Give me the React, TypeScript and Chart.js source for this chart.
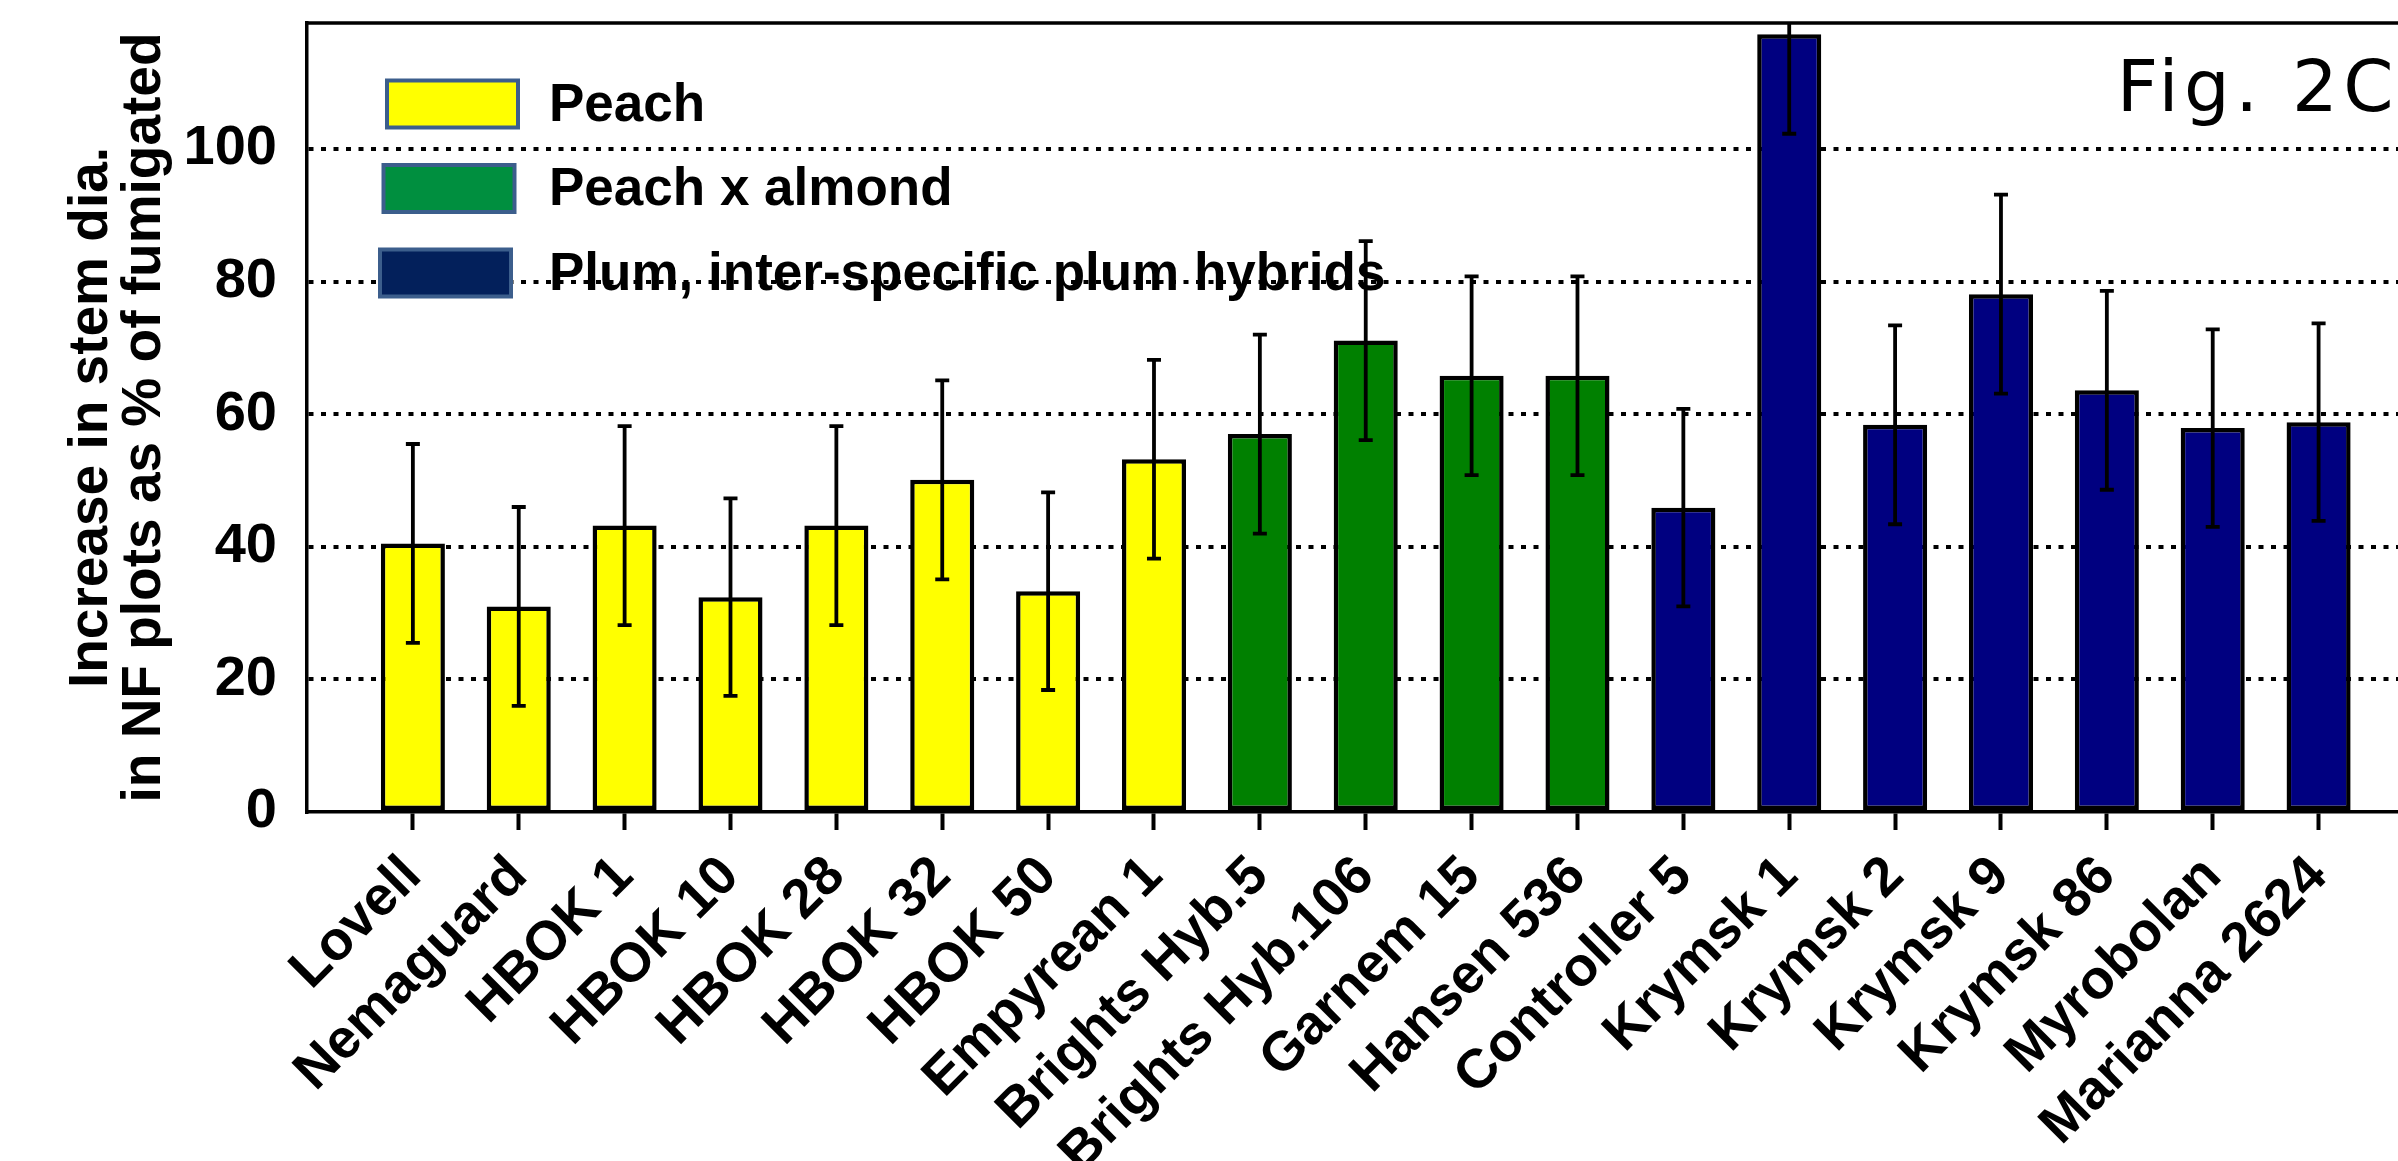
import React, { useEffect, useRef } from 'react';
import { Chart, registerables } from 'chart.js';

Chart.register(...registerables);

const categories = [
  'Lovell', 'Nemaguard', 'HBOK 1', 'HBOK 10', 'HBOK 28', 'HBOK 32', 'HBOK 50', 'Empyrean 1',
  'Brights Hyb.5', 'Brights Hyb.106', 'Garnem 15', 'Hansen 536', 'Controller 5',
  'Krymsk 1', 'Krymsk 2', 'Krymsk 9', 'Krymsk 86', 'Myrobolan', 'Marianna 2624',
];
const groupIndex = [0, 0, 0, 0, 0, 0, 0, 0, 1, 1, 1, 1, 2, 2, 2, 2, 2, 2, 2];
const means = [40.5, 31.0, 43.2, 32.4, 43.2, 50.1, 33.3, 53.2, 57.0, 71.1, 65.8, 65.8, 45.9, 117.3, 58.4, 78.1, 63.6, 57.9, 58.8];
const errors = [15.0, 15.0, 15.0, 14.9, 15.0, 15.0, 14.9, 15.0, 15.0, 15.0, 15.0, 15.0, 14.9, 15.0, 15.0, 15.0, 15.0, 14.9, 14.9];
const groupNames = ['Peach', 'Peach x almond', 'Plum, inter-specific plum hybrids'];
const barFill = ['#FFFF00', '#008000', '#000080'];
const legendFill = ['#FFFF00', '#008F3F', '#03205B'];
const yTickValues = [0, 20, 40, 60, 80, 100];
const yTitleLines = ['Increase in stem dia.', 'in NF plots as % of fumigated'];
const figureLabel = 'Fig. 2C';

const FONT = "'Liberation Sans', Arial, sans-serif";

const errorBarPlugin = {
  id: 'errorBars',
  afterDatasetsDraw(chart: any) {
    const meta = chart.getDatasetMeta(0);
    const yScale = chart.scales.y;
    const { ctx, chartArea } = chart;
    ctx.save();
    ctx.beginPath();
    ctx.rect(chartArea.left, chartArea.top, chartArea.right - chartArea.left, chartArea.bottom - chartArea.top);
    ctx.clip();
    ctx.strokeStyle = '#000';
    ctx.lineWidth = 3.8;
    const cap = 7;
    meta.data.forEach((bar: any, i: number) => {
      const x = bar.x;
      const top = yScale.getPixelForValue(means[i] + errors[i]);
      const bot = yScale.getPixelForValue(means[i] - errors[i]);
      ctx.beginPath();
      ctx.moveTo(x, top);
      ctx.lineTo(x, bot);
      ctx.moveTo(x - cap, top);
      ctx.lineTo(x + cap, top);
      ctx.moveTo(x - cap, bot);
      ctx.lineTo(x + cap, bot);
      ctx.stroke();
    });
    ctx.restore();
  },
};

const framePlugin = {
  id: 'frameTop',
  afterDatasetsDraw(chart: any) {
    const { ctx, chartArea } = chart;
    ctx.save();
    ctx.strokeStyle = '#000';
    ctx.lineWidth = 3.5;
    ctx.beginPath();
    ctx.moveTo(chartArea.left - 1.75, chartArea.top);
    ctx.lineTo(chartArea.right, chartArea.top);
    ctx.stroke();
    ctx.restore();
  },
};

const legendPlugin = {
  id: 'customLegend',
  afterDatasetsDraw(chart: any) {
    const { ctx, chartArea } = chart;
    ctx.save();
    const boxW = 131;
    const boxH = 47;
    const firstY = chartArea.top + 81;
    const step = 84.5;
    groupNames.forEach((name, i) => {
      const cy = firstY + i * step;
      const bx = chartArea.left + 80 - i * 3.5;
      ctx.fillStyle = legendFill[i];
      ctx.strokeStyle = '#3C5E8C';
      ctx.lineWidth = 4;
      ctx.beginPath();
      ctx.rect(bx, cy - boxH / 2, boxW, boxH);
      ctx.fill();
      ctx.stroke();
      ctx.fillStyle = '#000';
      ctx.font = `bold 53px ${FONT}`;
      ctx.textAlign = 'left';
      ctx.textBaseline = 'middle';
      ctx.fillText(name, chartArea.left + 242, cy + 2);
    });
    ctx.restore();
  },
};

const figLabelPlugin = {
  id: 'figLabel',
  afterDatasetsDraw(chart: any) {
    const { ctx, chartArea } = chart;
    ctx.save();
    ctx.fillStyle = '#000';
    ctx.font = `72px 'DejaVu Sans', sans-serif`;
    (ctx as any).letterSpacing = '5.5px';
    ctx.textAlign = 'right';
    ctx.textBaseline = 'alphabetic';
    ctx.fillText(figureLabel, chartArea.right + 1, chartArea.top + 88);
    ctx.restore();
  },
};

export default function App() {
  const canvasRef = useRef<HTMLCanvasElement | null>(null);

  useEffect(() => {
    if (!canvasRef.current) return;
    Chart.defaults.color = '#000';
    const chart = new Chart(canvasRef.current, {
      type: 'bar',
      data: {
        datasets: [
          {
            label: 'Increase in stem dia.',
            data: means.map((m, i) => ({ x: i + 1, y: m })),
            backgroundColor: groupIndex.map((g) => barFill[g]),
            borderColor: '#000',
            borderWidth: 4.5,
            borderSkipped: false,
            barPercentage: 0.605,
            categoryPercentage: 1.0,
          } as any,
        ],
      },
      options: {
        responsive: true,
        maintainAspectRatio: false,
        animation: false,
        events: [],
        layout: { padding: { top: 23, right: 0, left: 0, bottom: 0 } },
        plugins: {
          legend: { display: false },
          tooltip: { enabled: false },
          title: { display: false },
        },
        scales: {
          x: {
            type: 'linear',
            min: 0,
            max: 19.75,
            offset: false,
            afterBuildTicks: (s: any) => {
              s.ticks = categories.map((_, i) => ({ value: i + 1 }));
            },
            afterFit: (s: any) => {
              s.height = 349;
              s.paddingLeft = 0;
              s.paddingRight = 0;
            },
            grid: {
              display: true,
              offset: false,
              drawOnChartArea: false,
              drawTicks: true,
              tickLength: 18,
              tickWidth: 4,
              tickColor: '#000',
              color: '#000',
            },
            border: { display: true, color: '#000', width: 3.5 },
            ticks: {
              autoSkip: false,
              maxRotation: 45,
              minRotation: 45,
              padding: 14,
              color: '#000',
              font: { family: FONT, size: 55, weight: 'bold' },
              callback: (v: any) => categories[Math.round(v) - 1] ?? '',
            },
          },
          y: {
            type: 'linear',
            min: 0,
            max: 119,
            afterBuildTicks: (s: any) => {
              s.ticks = yTickValues.map((v) => ({ value: v }));
            },
            afterFit: (s: any) => {
              s.width = 307;
              s.paddingTop = 0;
              s.paddingBottom = 0;
            },
            grid: {
              color: (c: any) => (c.tick && c.tick.value === 0 ? 'rgba(0,0,0,0)' : '#000'),
              lineWidth: 4,
              drawTicks: false,
            },
            border: { display: true, color: '#000', width: 3.5, dash: [5, 7.5] },
            ticks: {
              padding: 30,
              color: '#000',
              font: { family: FONT, size: 56, weight: 'bold' },
            },
            title: {
              display: true,
              text: yTitleLines,
              color: '#000',
              font: { family: FONT, size: 55, weight: 'bold', lineHeight: 0.964 },
              padding: { top: 65, bottom: 0 },
            },
          },
        },
      } as any,
      plugins: [errorBarPlugin, framePlugin, legendPlugin, figLabelPlugin],
    });
    return () => chart.destroy();
  }, []);

  return (
    <div style={{ position: 'absolute', left: 0, top: 0, width: 2398, height: 1161, background: '#fff' }}>
      <canvas ref={canvasRef} />
    </div>
  );
}
